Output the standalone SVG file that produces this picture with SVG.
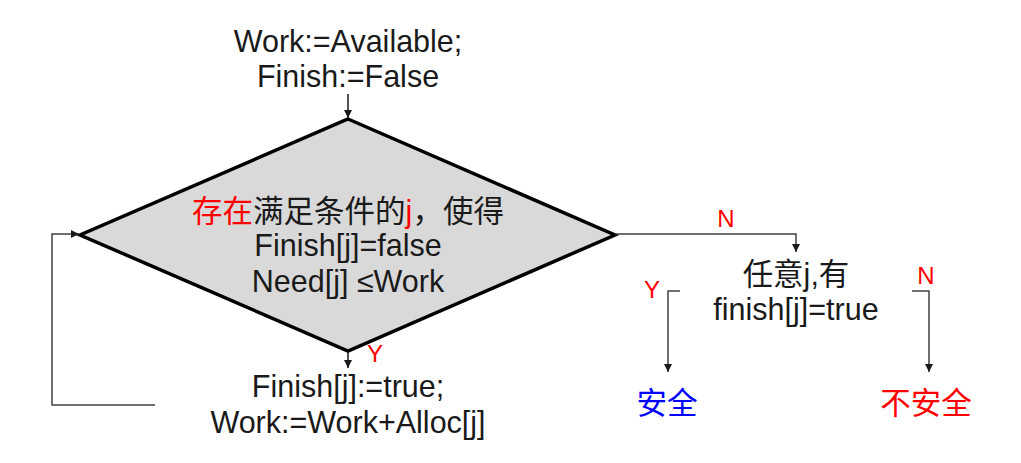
<svg xmlns="http://www.w3.org/2000/svg" width="1021" height="463" viewBox="0 0 1021 463">
<style>
text{font-family:"Liberation Sans","Noto Sans CJK SC",Arial,sans-serif;font-size:30.5px;fill:#1a1a1a;text-anchor:middle}
.red{fill:#ff0000}
.blue{fill:#0000ff}
.lbl{font-size:24px;fill:#ff0000}
.conn{fill:none;stroke:#404040;stroke-width:1.5}
</style>
<defs>
<marker id="ah" viewBox="0 0 10 10" refX="10" refY="5" markerWidth="8" markerHeight="8" markerUnits="userSpaceOnUse" orient="auto">
<path d="M0,0 L10,5 L0,10 z" fill="#1a1a1a"/>
</marker>
</defs>
<rect width="1021" height="463" fill="#ffffff"/>
<g id="init">
<text x="348" y="52">Work:=Available;</text>
<text x="348" y="87">Finish:=False</text>
</g>
<g id="decision">
<polygon points="348,119 615,235 348,351 80,235" fill="#d9d9d9" stroke="#000" stroke-width="3.5" stroke-linejoin="miter"/>
<text x="348" y="222"><tspan class="red">存在</tspan>满足条件的<tspan class="red">j</tspan>，使得</text>
<text x="348" y="256">Finish[j]=false</text>
<text x="348" y="292">Need[j] ≤Work</text>
</g>
<g id="update">
<text x="348" y="397">Finish[j]:=true;</text>
<text x="348" y="433">Work:=Work+Alloc[j]</text>
</g>
<g id="check">
<text x="796" y="285">任意j,有</text>
<text x="796" y="320">finish[j]=true</text>
</g>
<g id="safe">
<text x="667" y="414" class="blue">安全</text>
</g>
<g id="unsafe">
<text x="926" y="414" class="red">不安全</text>
</g>
<g id="connectors">
<line class="conn" x1="348" y1="94" x2="348" y2="118" marker-end="url(#ah)" style="stroke:#1a1a1a"/>
<line class="conn" x1="348" y1="352" x2="348" y2="368" marker-end="url(#ah)" style="stroke:#1a1a1a"/>
<polyline class="conn" points="155,405 52,405 52,234 79,234" marker-end="url(#ah)"/>
<polyline class="conn" points="615,234 796,234 796,252" marker-end="url(#ah)"/>
<polyline class="conn" points="680,291 668,291 668,372" marker-end="url(#ah)"/>
<polyline class="conn" points="912,291 929,291 929,372" marker-end="url(#ah)"/>
</g>
<g id="labels">
<text x="375" y="362" class="lbl">Y</text>
<text x="726" y="227" class="lbl">N</text>
<text x="652" y="298" class="lbl">Y</text>
<text x="926" y="284" class="lbl">N</text>
</g>
</svg>
